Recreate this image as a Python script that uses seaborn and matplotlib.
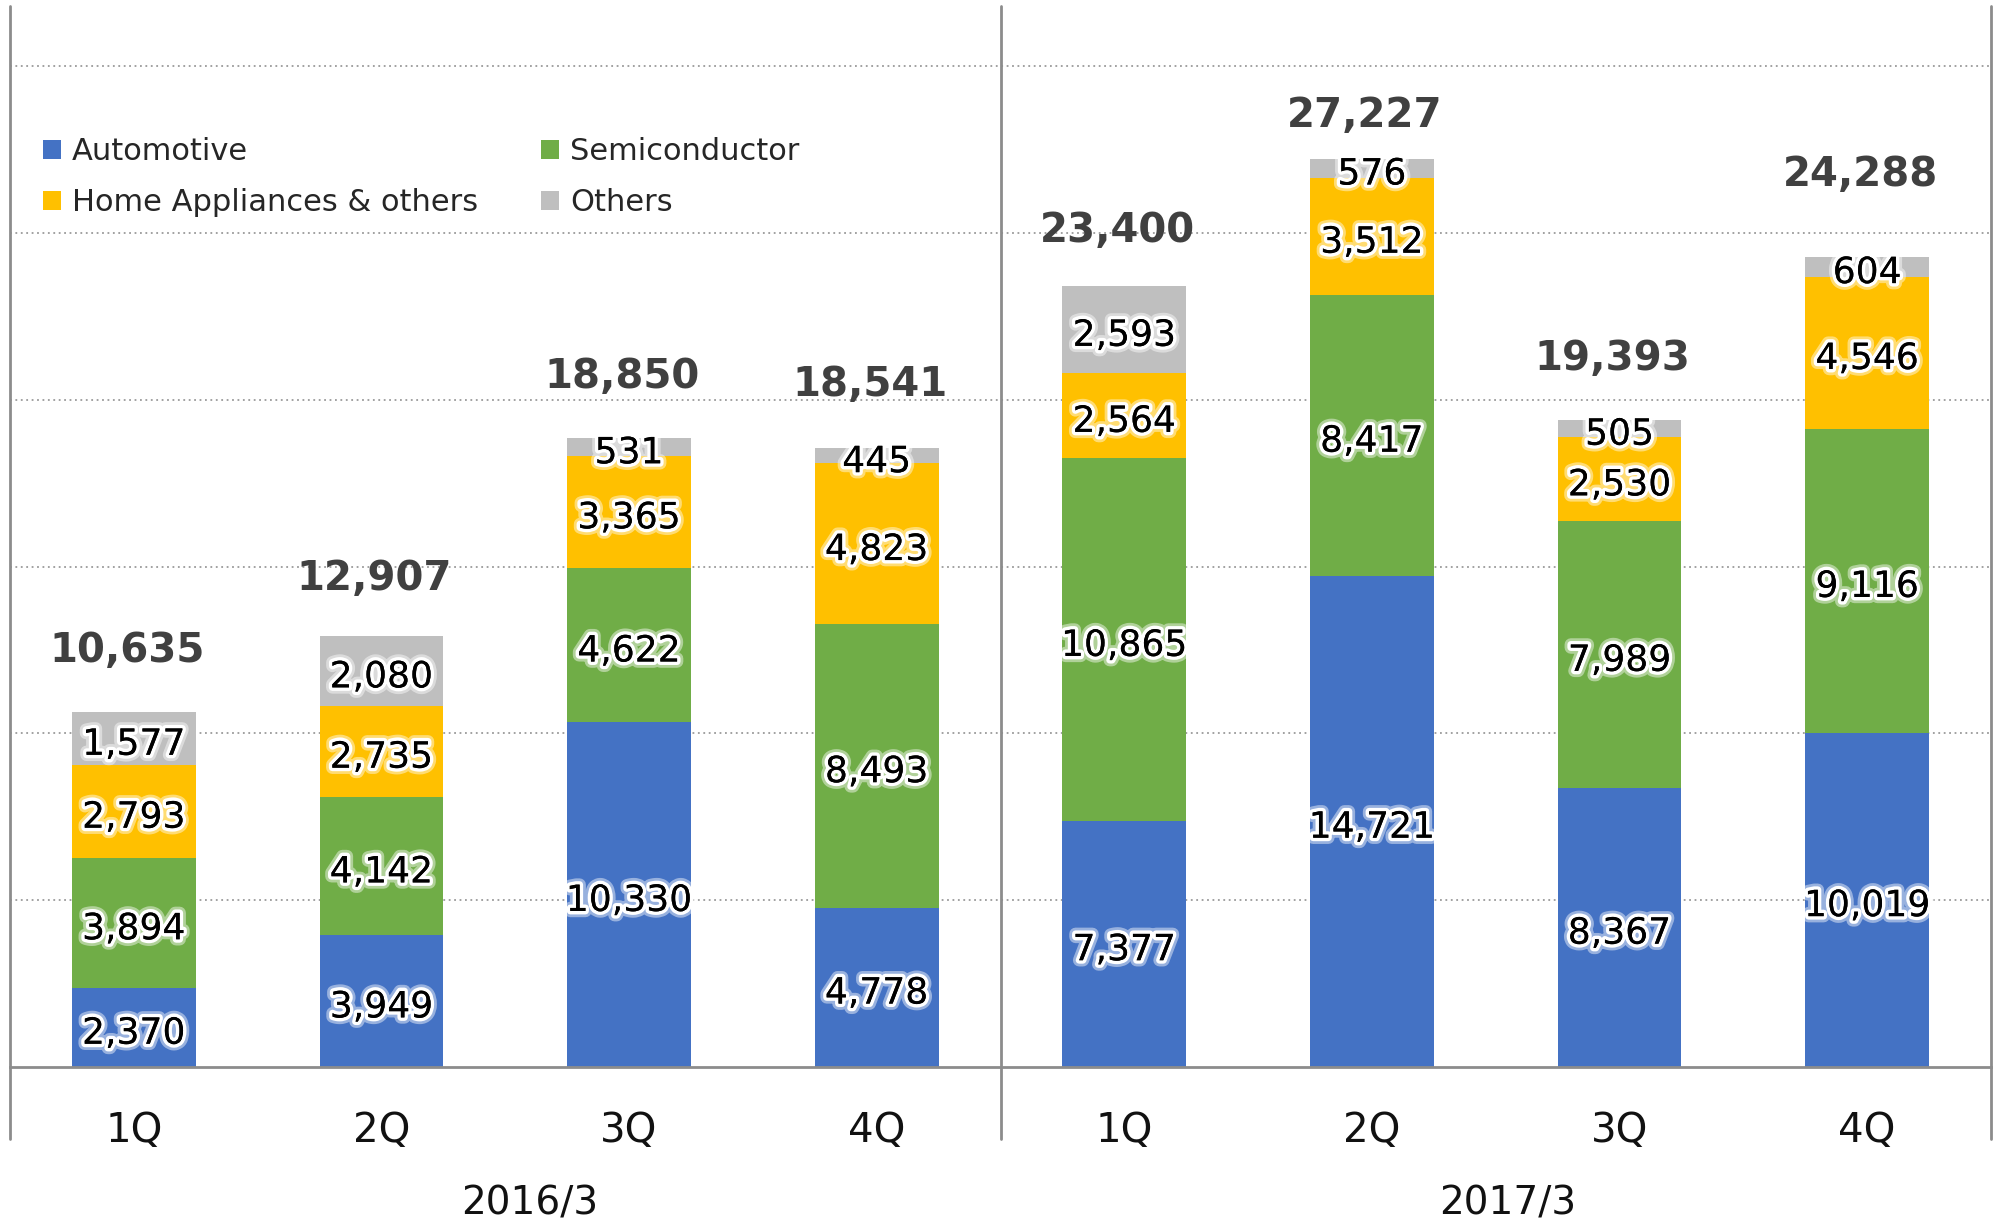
import matplotlib
matplotlib.use("Agg")
import matplotlib.pyplot as plt
import matplotlib.patheffects as pe
from matplotlib.patches import Patch
from matplotlib.lines import Line2D
import matplotlib.transforms as mtransforms
import numpy as np
import pandas as pd
import seaborn as sns

# ---- data ----
quarters = ["1Q", "2Q", "3Q", "4Q", "1Q", "2Q", "3Q", "4Q"]
fiscal_years = ["2016/3", "2017/3"]
automotive = [2370, 3949, 10330, 4778, 7377, 14721, 8367, 10019]
semiconductor = [3894, 4142, 4622, 8493, 10865, 8417, 7989, 9116]
home_appliances = [2793, 2735, 3365, 4823, 2564, 3512, 2530, 4546]
others = [1577, 2080, 531, 445, 2593, 576, 505, 604]
totals = [10635, 12907, 18850, 18541, 23400, 27227, 19393, 24288]
series_names = ["Automotive", "Semiconductor", "Home Appliances & others", "Others"]

# ---- style ----
colors = {"Automotive": "#4472C4", "Semiconductor": "#70AD47",
          "Home Appliances & others": "#FFC000", "Others": "#BFBFBF"}
total_offsets_pt = [44, 41, 44, 46, 40, 31, 44, 59]

sns.set_style("white")
plt.rcParams["font.family"] = ["DejaVu Sans"]

keys = [f"{fy} {q}" for fy in fiscal_years for q in quarters[:4]]
df = pd.DataFrame({"key": keys, "Automotive": automotive, "Semiconductor": semiconductor,
                   "Home Appliances & others": home_appliances, "Others": others})
layers = [np.array(df[s]) for s in series_names]
cums = np.cumsum(layers, axis=0)

fig = plt.figure(figsize=(19.95, 12.24), dpi=100)
ax = fig.add_axes([10 / 1995, 157 / 1224, 1981 / 1995, 1061 / 1224])

# draw cumulative stacks top layer first
for i in range(len(series_names) - 1, -1, -1):
    sns.barplot(x=df["key"], y=cums[i], order=keys, color=colors[series_names[i]],
                saturation=1, width=0.5, linewidth=0, ax=ax, errorbar=None, zorder=2)

ax.set_xlim(-0.5, 7.5)
ax.set_ylim(0, 31800)
ax.set_yticks([5000, 10000, 15000, 20000, 25000, 30000])
ax.set_yticklabels([])
ax.yaxis.grid(True, linestyle=(0, (1, 2)), color="#9A9A9A", linewidth=1.3)
ax.set_axisbelow(True)
ax.tick_params(axis="both", length=0)
ax.set_xlabel("")
ax.set_ylabel("")
for s in ["left", "right", "top"]:
    ax.spines[s].set_visible(False)
ax.spines["bottom"].set_color("#8C8C8C")
ax.spines["bottom"].set_linewidth(2)
ax.spines["bottom"].set_zorder(3)

ax.set_xticks(range(8))
ax.set_xticklabels(quarters, fontsize=29, color="#111111")
ax.tick_params(axis="x", pad=32)

trans = mtransforms.blended_transform_factory(ax.transData, ax.transAxes)
for xv in [-0.5, 3.5, 7.5]:
    ax.add_line(Line2D([xv, xv], [-0.068, 1.0], transform=trans, color="#8C8C8C",
                       linewidth=2, clip_on=False, zorder=3))

for j, fy in enumerate(fiscal_years):
    ax.text(1.6 + 3.95 * j, -0.129, fy, transform=trans, ha="center", va="center",
            fontsize=28, color="#111111")

# segment labels
glow = [pe.withStroke(linewidth=9, foreground="white", alpha=0.45),
        pe.withStroke(linewidth=5, foreground="white"), pe.Normal()]
for i in range(len(series_names)):
    bottoms = cums[i] - layers[i]
    for k in range(8):
        v = layers[i][k]
        ax.annotate(f"{v:,}", (k, bottoms[k] + v / 2), xytext=(0, -2),
                    textcoords="offset points", ha="center", va="center_baseline",
                    fontsize=26, color="black", path_effects=glow, zorder=5)

# totals
for k in range(8):
    ax.annotate(f"{totals[k]:,}", (k, cums[-1][k]), xytext=(-5, total_offsets_pt[k]),
                textcoords="offset points", ha="center", va="center",
                fontsize=29, fontweight="bold", color="#404040", zorder=5)

handles = [Patch(facecolor=colors[n], edgecolor="none") for n in
           ["Automotive", "Home Appliances & others", "Semiconductor", "Others"]]
labels = ["Automotive", "Home Appliances & others", "Semiconductor", "Others"]
fig.legend(handles, labels, ncol=2, loc="upper left", bbox_to_anchor=(43 / 1995, 1 - 137 / 1224),
           frameon=False, fontsize=22, handlelength=0.6, handleheight=0.6, handletextpad=0.35,
           columnspacing=2.05, labelspacing=0.72, borderpad=0, borderaxespad=0)

fig.savefig("out.png", dpi=100, facecolor="white")
